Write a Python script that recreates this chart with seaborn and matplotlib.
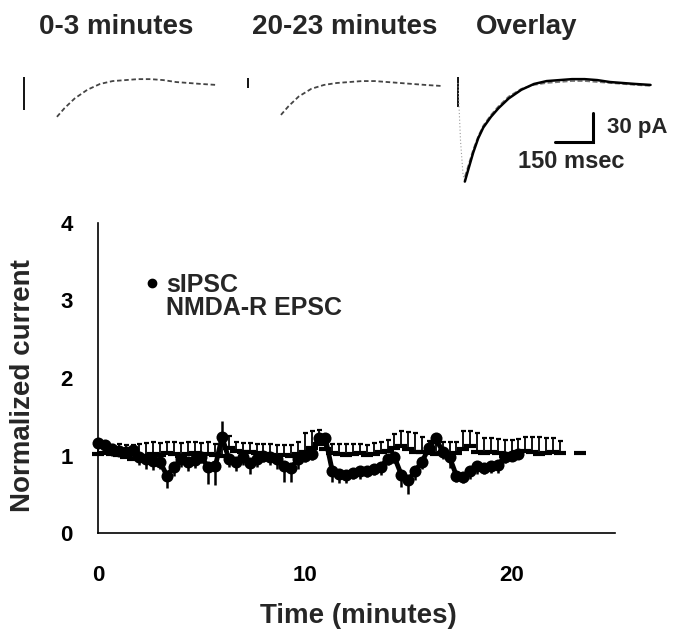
import numpy as np
import pandas as pd
import matplotlib
matplotlib.use("Agg")
import matplotlib.pyplot as plt
import seaborn as sns
from matplotlib.lines import Line2D

# ---------------- data ----------------
# sIPSC (normalized), sampled every 20 s
sipsc_t = [0.00, 0.33, 0.67, 1.00, 1.33, 1.67, 2.00, 2.33, 2.67, 3.00,
           3.33, 3.67, 4.00, 4.33, 4.67, 5.00, 5.33, 5.67, 6.00, 6.33,
           6.67, 7.00, 7.33, 7.67, 8.00, 8.33, 8.67, 9.00, 9.33, 9.67,
           10.00, 10.33, 10.67, 11.00, 11.33, 11.67, 12.00, 12.33, 12.67, 13.00,
           13.33, 13.67, 14.00, 14.33, 14.67, 15.00, 15.33, 15.67, 16.00, 16.33,
           16.67, 17.00, 17.33, 17.67, 18.00, 18.33, 18.67, 19.00, 19.33, 19.67,
           20.00, 20.33]
sipsc_val = [1.16, 1.13, 1.08, 1.06, 1.05, 1.07, 0.98, 0.95, 0.93, 0.92,
             0.74, 0.85, 0.95, 0.92, 0.94, 0.98, 0.85, 0.86, 1.24, 0.95,
             0.92, 0.98, 0.90, 0.95, 1.00, 0.98, 0.95, 0.86, 0.84, 0.95,
             1.00, 1.02, 1.23, 1.22, 0.80, 0.76, 0.75, 0.78, 0.80, 0.80,
             0.83, 0.85, 0.96, 0.98, 0.75, 0.68, 0.80, 0.92, 1.10, 1.22,
             1.05, 0.98, 0.74, 0.72, 0.80, 0.86, 0.84, 0.86, 0.88, 0.98,
             1.00, 1.02]
sipsc_err_lo = [0.05, 0.06, 0.08, 0.06, 0.06, 0.08, 0.10, 0.12, 0.12, 0.10,
                0.16, 0.12, 0.10, 0.12, 0.10, 0.08, 0.22, 0.24, 0.10, 0.10,
                0.12, 0.10, 0.14, 0.10, 0.08, 0.10, 0.12, 0.20, 0.18, 0.12,
                0.08, 0.08, 0.10, 0.10, 0.14, 0.12, 0.10, 0.08, 0.10, 0.08,
                0.08, 0.10, 0.08, 0.08, 0.16, 0.18, 0.12, 0.10, 0.08, 0.08,
                0.10, 0.14, 0.08, 0.08, 0.10, 0.10, 0.08, 0.08, 0.10, 0.08,
                0.06, 0.06]
sipsc_err_hi = [0.0] * 18 + [0.21] + [0.0] * 43

# NMDA-R EPSC (normalized)
nmda_t = [0.00, 0.33, 0.67, 1.00, 1.33, 1.67, 2.00, 2.33, 2.67, 3.00,
          3.33, 3.67, 4.00, 4.33, 4.67, 5.00, 5.33, 5.67, 6.00, 6.33,
          6.67, 7.00, 7.33, 7.67, 8.00, 8.33, 8.67, 9.00, 9.33, 9.67,
          10.00, 10.33, 10.67, 11.00, 11.33, 11.67, 12.00, 12.33, 12.67, 13.00,
          13.33, 13.67, 14.00, 14.33, 14.67, 15.00, 15.33, 15.67, 16.00, 16.33,
          16.67, 17.00, 17.33, 17.67, 18.00, 18.33, 18.67, 19.00, 19.33, 19.67,
          20.00, 20.33, 20.67, 21.00, 21.33, 21.67, 22.00, 22.33,
          23.33]
nmda_val = [1.02, 1.03, 1.02, 1.01, 0.98, 0.96, 0.97, 1.00, 1.02, 1.01,
            1.03, 1.02, 1.00, 1.02, 1.03, 1.00, 1.02, 1.01, 0.99, 1.10,
            1.06, 1.05, 1.04, 1.03, 1.02, 1.01, 1.00, 1.01, 1.00, 1.02,
            1.05, 1.10, 1.15, 1.08, 1.03, 1.02, 1.01, 1.02, 1.03, 1.01,
            1.02, 1.04, 1.06, 1.10, 1.12, 1.08, 1.05, 1.04, 1.03, 1.02,
            1.03, 1.02, 1.03, 1.08, 1.12, 1.05, 1.03, 1.04, 1.03, 1.00,
            1.02, 1.05, 1.06, 1.04, 1.02, 1.03, 1.04, 1.03,
            1.03]
nmda_err_hi = [0.10, 0.10, 0.12, 0.14, 0.16, 0.18, 0.18, 0.16, 0.15, 0.15,
               0.14, 0.15, 0.16, 0.15, 0.14, 0.16, 0.15, 0.14, 0.16, 0.15,
               0.12, 0.11, 0.12, 0.12, 0.13, 0.14, 0.14, 0.13, 0.14, 0.16,
               0.24, 0.22, 0.18, 0.12, 0.12, 0.13, 0.14, 0.13, 0.12, 0.13,
               0.14, 0.14, 0.14, 0.18, 0.20, 0.22, 0.24, 0.20, 0.16, 0.14,
               0.14, 0.16, 0.15, 0.24, 0.20, 0.24, 0.20, 0.18, 0.18, 0.20,
               0.18, 0.16, 0.18, 0.20, 0.22, 0.20, 0.19, 0.16,
               0.00]

# Example current traces (ms, pA)
trace_ms = [0, 10, 20, 27, 40, 60, 80, 100, 130, 160, 200, 250, 300, 350,
            400, 450, 500, 550, 600, 650, 700, 760]
early_pA = [0, -60, -95, -102, -90, -72, -57, -46, -35, -26, -16, -7, -1, 2,
            3, 4, 4, 3, 1, 0, -1, -2]
late_pA = [0, -55, -90, -97, -86, -69, -55, -44, -33, -24, -14, -6, -2, 0,
           1, 2, 2, 1, 0, -1, -2, -3]
artifact_top = [6, 5, 6]
artifact_bottom = [-28, -5, -25]

panel_titles = ["0-3 minutes", "20-23 minutes", "Overlay"]
scale_ms, scale_pA = 150, 30
y_ticks = [0, 1, 2, 3, 4]
x_ticks = [0, 5, 10, 15, 20, 25]
x_ticklabels = ["0", "", "10", "", "20", ""]
legend_labels = ["sIPSC", "NMDA-R EPSC"]

# ---------------- style ----------------
sns.set_theme(style="white")
plt.rcParams["font.family"] = ["Liberation Sans", "DejaVu Sans"]
plt.rcParams["font.weight"] = "bold"

W, H = 685, 634
fig = plt.figure(figsize=(W / 100, H / 100), dpi=100)


def px_axes(l, t, r, b):
    return fig.add_axes([l / W, 1 - b / H, (r - l) / W, (b - t) / H])


# ---------------- main plot ----------------
ax = px_axes(98, 223, 615, 533)
sip = pd.DataFrame({"t": sipsc_t, "v": sipsc_val})

ax.errorbar(nmda_t, nmda_val, yerr=[np.zeros(len(nmda_val)), nmda_err_hi],
            fmt="none", ecolor="black", elinewidth=1.3, capsize=1.8,
            capthick=1.6, zorder=2, clip_on=False)
ax.plot(nmda_t, nmda_val, ls="none", marker="_", ms=8, mew=3,
        color="black", zorder=3, clip_on=False)
ax.errorbar(sipsc_t, sipsc_val, yerr=[sipsc_err_lo, sipsc_err_hi],
            fmt="none", ecolor="black", elinewidth=1.8, capsize=0,
            zorder=4, clip_on=False)
sns.lineplot(data=sip, x="t", y="v", ax=ax, color="black", lw=3.5,
             zorder=5, legend=False)
sns.scatterplot(data=sip, x="t", y="v", ax=ax, color="black", s=75,
                edgecolor="black", linewidth=0, zorder=6, clip_on=False,
                legend=False)

ax.set_xlim(0, 25)
ax.set_ylim(0, 4)
ax.set_xticks(x_ticks)
ax.set_xticklabels(x_ticklabels)
ax.set_yticks(y_ticks)
ax.set_xlabel("")
ax.set_ylabel("")
for s in ["top", "right"]:
    ax.spines[s].set_visible(False)
for s in ["left", "bottom"]:
    ax.spines[s].set_color("black")
    ax.spines[s].set_linewidth(1.2)
ax.tick_params(axis="both", direction="out", length=6, width=1.2,
               color="black", labelsize=16, labelcolor="black")
ax.tick_params(axis="y", pad=12)
ax.tick_params(axis="x", pad=17)
for lab in ax.get_xticklabels() + ax.get_yticklabels():
    lab.set_fontweight("bold")

fig.text(23 / W, 1 - 386 / H, "Normalized current", rotation=90,
         ha="center", va="center", fontsize=20, fontweight="bold")
fig.text(358 / W, 1 - 616 / H, "Time (minutes)", ha="center", va="center",
         fontsize=20, fontweight="bold")

handles = [Line2D([], [], ls="none", marker="o", ms=6, color="black"),
           Line2D([], [], ls="none", marker="_", ms=0, color="white")]
leg = fig.legend(handles, legend_labels, loc="upper left",
                 bbox_to_anchor=(144 / W, 1 - 273 / H), frameon=False,
                 handlelength=0.6, handletextpad=0.3,
                 labelspacing=-0.05, borderpad=0, borderaxespad=0,
                 prop={"weight": "bold", "size": 18})

# ---------------- trace insets ----------------
art_px = [24, 248, 458]
px_per_ms = 38 / 150
px_per_pA = 29 / 30
tr = pd.DataFrame({"ms": trace_ms, "early": early_pA, "late": late_pA})
title_px = [39, 252, 476]
for k, a in enumerate(art_px):
    iax = px_axes(a - 10, 70, a + 205, 190)
    iax.set_xlim(-10 / px_per_ms, 205 / px_per_ms)
    iax.set_ylim((83 - 190) / px_per_pA, (83 - 70) / px_per_pA)
    iax.axis("off")
    iax.vlines(0, artifact_bottom[k], artifact_top[k], color="black", lw=1.3)
    if k == 0:
        d = tr[tr.ms >= 120]
        sns.lineplot(data=d, x="ms", y="early", ax=iax, color="#444444",
                     lw=1.3, ls=(0, (2.5, 1.5)), legend=False)
    elif k == 1:
        d = tr[tr.ms >= 120]
        sns.lineplot(data=d, x="ms", y="late", ax=iax, color="#444444",
                     lw=1.3, ls=(0, (2.5, 1.5)), legend=False)
    else:
        d0 = tr[tr.ms <= 27]
        sns.lineplot(data=d0, x="ms", y="early", ax=iax, color="#9a9a9a",
                     lw=0.8, ls=(0, (1, 2)), legend=False)
        d = tr[tr.ms >= 27]
        sns.lineplot(data=d, x="ms", y="late", ax=iax, color="#777777",
                     lw=1.2, ls=(0, (3, 1.5)), legend=False)
        sns.lineplot(data=d, x="ms", y="early", ax=iax, color="black",
                     lw=1.8, legend=False)
        # scale bar
        x1 = (593 - a) / px_per_ms
        y0 = (83 - 142) / px_per_pA
        iax.plot([x1 - scale_ms, x1, x1], [y0, y0, y0 + scale_pA],
                 color="black", lw=2.2, solid_joinstyle="miter",
                 clip_on=False)
        iax.text((607 - a) / px_per_ms, y0 + scale_pA / 2, "30 pA",
                 ha="left", va="center", fontsize=16, fontweight="bold")
        iax.text((518 - a) / px_per_ms, (83 - 162) / px_per_pA, "150 msec",
                 ha="left", va="center", fontsize=17, fontweight="bold")
    iax.set_xlabel("")
    iax.set_ylabel("")
    fig.text(title_px[k] / W, 1 - 27 / H, panel_titles[k], ha="left",
             va="center", fontsize=20, fontweight="bold")

fig.savefig("out.png", dpi=100)
